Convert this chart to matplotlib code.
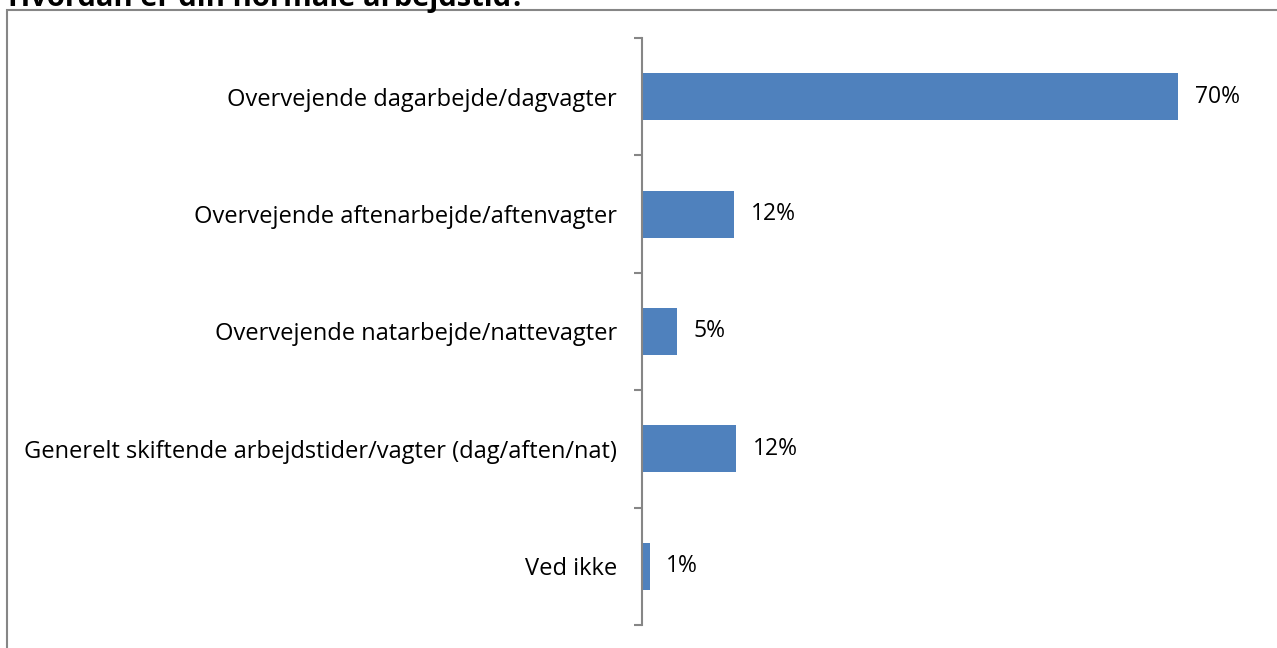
import matplotlib
matplotlib.use("Agg")
import matplotlib.pyplot as plt
from matplotlib.patches import Rectangle

categories = [
    "Overvejende dagarbejde/dagvagter",
    "Overvejende aftenarbejde/aftenvagter",
    "Overvejende natarbejde/nattevagter",
    "Generelt skiftende arbejdstider/vagter (dag/aften/nat)",
    "Ved ikke",
]
values = [70.0, 12.0, 4.6, 12.3, 1.0]
value_labels = ["70%", "12%", "5%", "12%", "1%"]
title = "Hvordan er din normale arbejdstid?"

W, H = 1277, 648
DPI = 100
plt.rcParams['font.family'] = ['Open Sans', 'DejaVu Sans']
fig = plt.figure(figsize=(W / DPI, H / DPI), dpi=DPI)

def fx(px):
    return px / W

def fy(py):
    return 1 - py / H

# outer chart border
fig.patches.append(Rectangle((fx(7), fy(700)), fx(1400), fy(10) - fy(700),
                             transform=fig.transFigure, fill=False,
                             edgecolor="#868686", linewidth=1.5))

fig.text(fx(8), fy(6), title, fontsize=21, fontweight="bold", va="baseline",
         ha="left", color="black")

ax = fig.add_axes([fx(642), fy(625), fx(1260) - fx(642), fy(38) - fy(625)])
y = list(range(len(categories)))
ax.barh(y, values, height=0.4, color="#4F81BD")
ax.set_ylim(len(categories) - 0.5, -0.5)
ax.set_xlim(0, 618 / 7.66)

for yi, v, lab in zip(y, values, value_labels):
    ax.annotate(lab, (v, yi), xytext=(12, 0), textcoords="offset points",
                va="center", ha="left", fontsize=16.5, color="black")

for s in ["top", "right", "bottom"]:
    ax.spines[s].set_visible(False)
ax.spines["left"].set_color("#868686")
ax.spines["left"].set_linewidth(1.5)
ax.set_xticks([])
ax.set_yticks(y)
ax.set_yticklabels(categories, fontsize=17)
ax.tick_params(axis="y", which="major", length=0, pad=18)
ax.set_yticks([i - 0.5 for i in range(len(categories) + 1)], minor=True)
ax.tick_params(axis="y", which="minor", length=6, width=1.5, color="#868686",
               direction="out")
ax.patch.set_alpha(0)

fig.savefig("out.png", dpi=DPI)
